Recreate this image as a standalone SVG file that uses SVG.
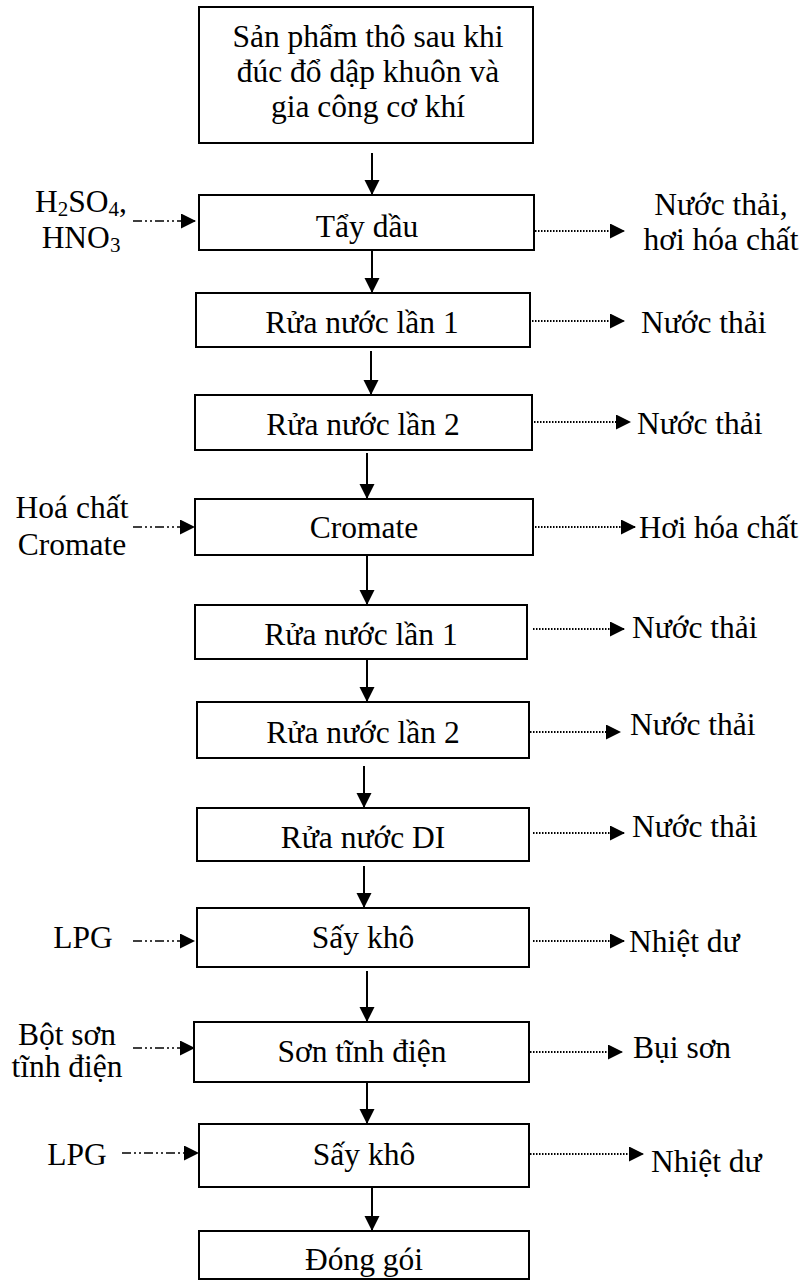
<svg xmlns="http://www.w3.org/2000/svg" width="802" height="1283" viewBox="0 0 802 1283">
  <style>
    text { font-family: "Liberation Serif", "Times New Roman", serif; font-size: 31.5px; fill: #000; }
    .c { text-anchor: middle; }
    .box { fill: #fff; stroke: #000; stroke-width: 2; }
    .flow { stroke: #000; stroke-width: 2; fill: none; marker-end: url(#head); }
    .in { stroke: #000; stroke-width: 1.6; fill: none; stroke-dasharray: 9 3 2 3 2 3; marker-end: url(#head); }
    .out { stroke: #000; stroke-width: 2; fill: none; stroke-dasharray: 1.5 1.5; marker-end: url(#head); }
    .sub { font-size: 21px; }
  </style>
  <defs>
    <marker id="head" markerUnits="userSpaceOnUse" markerWidth="16" markerHeight="16" refX="14" refY="7.5" orient="auto">
      <path d="M0,0 L15,7.5 L0,15 Z" fill="#000"/>
    </marker>
  </defs>
  <rect width="802" height="1283" fill="#fff"/>

  <!-- main process boxes -->
  <g id="n-raw">
    <rect class="box" x="199" y="7" width="334" height="136"/>
    <text class="c" x="368" y="47">Sản phẩm thô sau khi</text>
    <text class="c" x="368" y="82">đúc đổ dập khuôn và</text>
    <text class="c" x="368" y="117">gia công cơ khí</text>
  </g>
  <g id="n-degrease">
    <rect class="box" x="199" y="195" width="335" height="55"/>
    <text class="c" x="367" y="237">Tẩy dầu</text>
  </g>
  <g id="n-rinse1a">
    <rect class="box" x="196" y="293" width="334" height="54"/>
    <text class="c" x="362" y="333">Rửa nước lần 1</text>
  </g>
  <g id="n-rinse2a">
    <rect class="box" x="195" y="395" width="337" height="55"/>
    <text class="c" x="363" y="435">Rửa nước lần 2</text>
  </g>
  <g id="n-chromate">
    <rect class="box" x="195" y="499" width="338" height="56"/>
    <text class="c" x="364" y="538">Cromate</text>
  </g>
  <g id="n-rinse1b">
    <rect class="box" x="195" y="605" width="332" height="54"/>
    <text class="c" x="361" y="645">Rửa nước lần 1</text>
  </g>
  <g id="n-rinse2b">
    <rect class="box" x="197" y="702" width="332" height="56"/>
    <text class="c" x="363" y="743">Rửa nước lần 2</text>
  </g>
  <g id="n-rinse-di">
    <rect class="box" x="197" y="808" width="332" height="53"/>
    <text class="c" x="363" y="848">Rửa nước DI</text>
  </g>
  <g id="n-dry1">
    <rect class="box" x="197" y="908" width="332" height="59"/>
    <text class="c" x="363" y="948">Sấy khô</text>
  </g>
  <g id="n-coat">
    <rect class="box" x="194" y="1022" width="335" height="60"/>
    <text class="c" x="362" y="1062">Sơn tĩnh điện</text>
  </g>
  <g id="n-dry2">
    <rect class="box" x="199" y="1124" width="330" height="63"/>
    <text class="c" x="364" y="1165">Sấy khô</text>
  </g>
  <g id="n-pack">
    <rect class="box" x="199" y="1231" width="330" height="48"/>
    <text class="c" x="364" y="1270">Đóng gói</text>
  </g>

  <!-- inputs (left) -->
  <g id="in-acid">
    <text class="c" x="81" y="212">H<tspan class="sub" dy="4">2</tspan><tspan dy="-4">SO</tspan><tspan class="sub" dy="4">4</tspan><tspan dy="-4">,</tspan></text>
    <text class="c" x="81" y="248">HNO<tspan class="sub" dy="4">3</tspan></text>
  </g>
  <g id="in-chromate">
    <text class="c" x="72" y="518">Hoá chất</text>
    <text class="c" x="72" y="555">Cromate</text>
  </g>
  <g id="in-lpg1">
    <text class="c" x="83" y="948">LPG</text>
  </g>
  <g id="in-powder">
    <text class="c" x="67" y="1045">Bột sơn</text>
    <text class="c" x="67" y="1077">tĩnh điện</text>
  </g>
  <g id="in-lpg2">
    <text class="c" x="77" y="1165">LPG</text>
  </g>

  <!-- outputs (right) -->
  <g id="out-degrease">
    <text class="c" x="721" y="215">Nước thải,</text>
    <text class="c" x="721" y="250">hơi hóa chất</text>
  </g>
  <g id="out-rinse1a"><text x="641" y="333">Nước thải</text></g>
  <g id="out-rinse2a"><text x="637" y="434">Nước thải</text></g>
  <g id="out-chromate"><text x="639" y="538" textLength="159" lengthAdjust="spacingAndGlyphs">Hơi hóa chất</text></g>
  <g id="out-rinse1b"><text x="632" y="638">Nước thải</text></g>
  <g id="out-rinse2b"><text x="630" y="735">Nước thải</text></g>
  <g id="out-rinse-di"><text x="632" y="837">Nước thải</text></g>
  <g id="out-dry1"><text x="629" y="952">Nhiệt dư</text></g>
  <g id="out-coat"><text x="633" y="1058">Bụi sơn</text></g>
  <g id="out-dry2"><text x="651" y="1172">Nhiệt dư</text></g>

  <!-- connectors -->
  <g id="connectors">
    <!-- main flow -->
    <line class="flow" x1="372" y1="153" x2="372" y2="194"/>
    <line class="flow" x1="372" y1="250" x2="372" y2="292"/>
    <line class="flow" x1="371" y1="351" x2="371" y2="394"/>
    <line class="flow" x1="367" y1="453" x2="367" y2="498"/>
    <line class="flow" x1="367" y1="555" x2="367" y2="604"/>
    <line class="flow" x1="367" y1="659" x2="367" y2="701"/>
    <line class="flow" x1="364" y1="766" x2="364" y2="807"/>
    <line class="flow" x1="364" y1="866" x2="364" y2="907"/>
    <line class="flow" x1="367" y1="971" x2="367" y2="1021"/>
    <line class="flow" x1="367" y1="1082" x2="367" y2="1123"/>
    <line class="flow" x1="372" y1="1188" x2="372" y2="1230"/>
    <!-- inputs -->
    <line class="in" x1="133" y1="221" x2="195" y2="221"/>
    <line class="in" x1="133" y1="527" x2="194" y2="527"/>
    <line class="in" x1="133" y1="941" x2="194" y2="941"/>
    <line class="in" x1="133" y1="1048" x2="194" y2="1048"/>
    <line class="in" x1="122" y1="1153" x2="198" y2="1153"/>
    <!-- outputs -->
    <line class="out" x1="535" y1="231" x2="624" y2="231"/>
    <line class="out" x1="532" y1="321" x2="624" y2="321"/>
    <line class="out" x1="534" y1="422" x2="630" y2="422"/>
    <line class="out" x1="535" y1="527" x2="635" y2="527"/>
    <line class="out" x1="533" y1="629" x2="624" y2="629"/>
    <line class="out" x1="530" y1="732" x2="620" y2="732"/>
    <line class="out" x1="533" y1="833" x2="624" y2="833"/>
    <line class="out" x1="533" y1="941" x2="624" y2="941"/>
    <line class="out" x1="530" y1="1052" x2="622" y2="1052"/>
    <line class="out" x1="530" y1="1154" x2="643" y2="1154"/>
  </g>
</svg>
